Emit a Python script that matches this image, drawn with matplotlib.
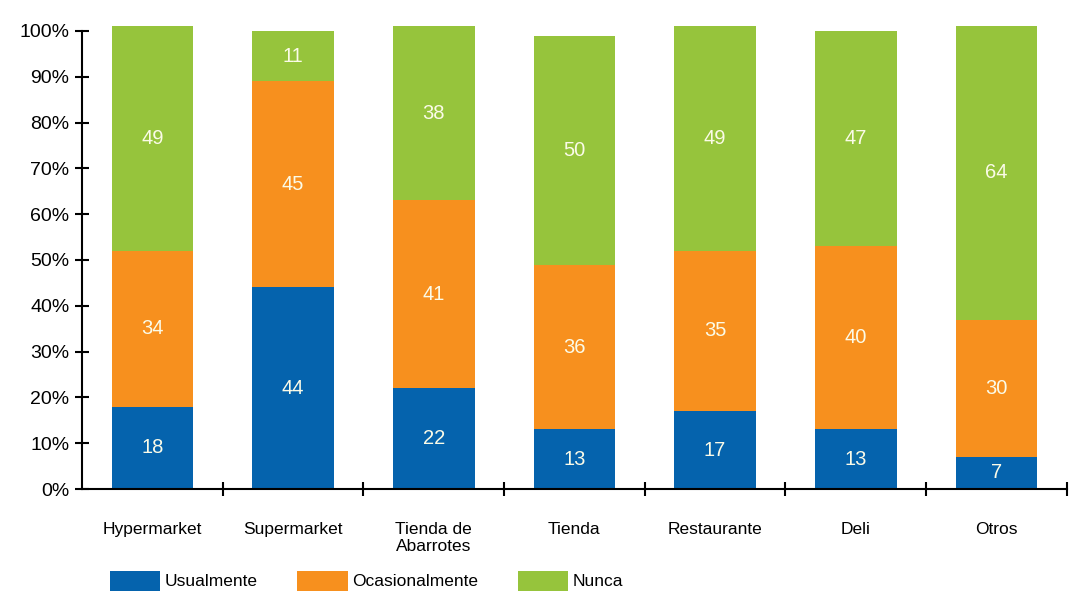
import matplotlib.pyplot as plt
import numpy as np

plt.rcParams['font.family'] = ['Liberation Sans', 'DejaVu Sans']

categories = ['Hypermarket', 'Supermarket', 'Tienda de\nAbarrotes', 'Tienda',
              'Restaurante', 'Deli', 'Otros']
usualmente = [18, 44, 22, 13, 17, 13, 7]
ocasionalmente = [34, 45, 41, 36, 35, 40, 30]
nunca = [49, 11, 38, 50, 49, 47, 64]
series_names = ['Usualmente', 'Ocasionalmente', 'Nunca']
colors = ['#0563ad', '#f7901e', '#96c43c']

fig = plt.figure(figsize=(10.69, 5.99), dpi=100)
ax = fig.add_axes([0.0767, 0.1836, 0.9213, 0.7647])

x = np.arange(len(categories))
bottom = np.zeros(len(categories))
handles = []
for vals, name, col in zip([usualmente, ocasionalmente, nunca], series_names, colors):
    vals = np.array(vals)
    bars = ax.bar(x, vals, 0.58, bottom=bottom, color=col, label=name, clip_on=False)
    handles.append(bars)
    for xi, b, v in zip(x, bottom, vals):
        ax.text(xi, b + v / 2, str(v), ha='center', va='center',
                color='#fbfbe8', fontsize=14.5)
    bottom = bottom + vals

ax.set_xlim(-0.5, len(categories) - 0.5)
ax.set_ylim(0, 100)
ax.set_yticks(np.arange(0, 101, 10))
ax.set_yticklabels([f'{v}%' for v in range(0, 101, 10)], fontsize=14)
ax.tick_params(axis='y', direction='inout', length=10, width=1.5, pad=4)

ax.set_xticks(x)
ax.set_xticklabels(categories, fontsize=12.5, va='top', linespacing=1.15)
ax.tick_params(axis='x', which='major', length=0, pad=24)
ax.set_xticks(np.arange(len(categories)) + 0.5, minor=True)
ax.tick_params(axis='x', which='minor', direction='inout', length=10, width=1.5)

for s in ['top', 'right']:
    ax.spines[s].set_visible(False)
for s in ['left', 'bottom']:
    ax.spines[s].set_linewidth(1.5)

fig.legend(handles=handles, labels=series_names, loc='lower left',
           bbox_to_anchor=(0.088, -0.012), ncol=3, frameon=False,
           fontsize=12.5, handlelength=2.9, handleheight=1.4,
           handletextpad=0.25, columnspacing=2.3)

fig.savefig('out.png', dpi=100)
